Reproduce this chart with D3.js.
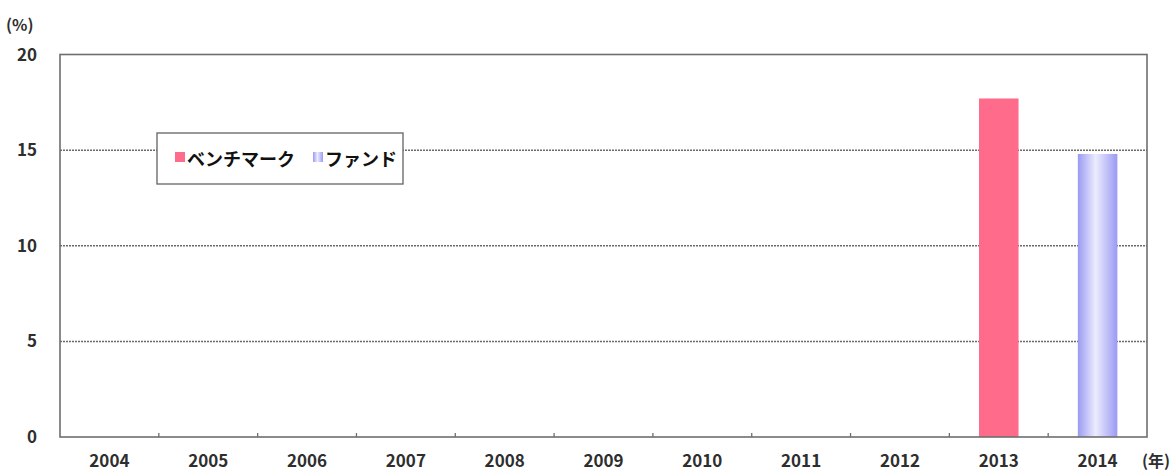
<!DOCTYPE html>
<html>
<head>
<meta charset="utf-8">
<script src="https://cdnjs.cloudflare.com/ajax/libs/d3/7.8.5/d3.min.js"></script>
<style>
  body { margin: 0; background: #fff; }
  svg { display: block; }
</style>
</head>
<body>
<svg id="chart" width="1176" height="471"></svg>
<script>
// data
const years = ["2004", "2005", "2006", "2007", "2008", "2009", "2010", "2011", "2012", "2013", "2014"];
const benchmark = [null, null, null, null, null, null, null, null, null, 17.7, null];
const fund = [null, null, null, null, null, null, null, null, null, null, 14.8];
const yTicks = [0, 5, 10, 15, 20];
const seriesNames = ["ベンチマーク", "ファンド"];

const FONT = "'Noto Sans CJK JP', 'DejaVu Sans', sans-serif";
const PINK = "#ff6b8a";
const LAV_EDGE = "#9a9af4";
const LAV_MID = "#ececfd";

const svg = d3.select("#chart");
const plotL = 60, plotR = 1147, plotT = 54.5, plotB = 437;

const x = d3.scaleBand().domain(years).range([plotL, plotR]).padding(0);
const y = d3.scaleLinear().domain([0, 20]).range([plotB, plotT]);

const defs = svg.append("defs");
const grad = defs.append("linearGradient").attr("id", "lav").attr("x1", "0%").attr("x2", "100%");
grad.append("stop").attr("offset", "0%").attr("stop-color", LAV_EDGE);
grad.append("stop").attr("offset", "45%").attr("stop-color", LAV_MID);
grad.append("stop").attr("offset", "100%").attr("stop-color", LAV_EDGE);

// gridlines (dotted)
svg.append("g").selectAll("line")
  .data(yTicks.filter(d => d > 0 && d < 20))
  .join("line")
  .attr("x1", plotL).attr("x2", plotR)
  .attr("y1", d => y(d)).attr("y2", d => y(d))
  .attr("stroke", "#6a6a6a").attr("stroke-width", 1.5)
  .attr("stroke-dasharray", "2,1");

// bars
const bw = x.bandwidth() * 0.4;
svg.append("g").selectAll("rect")
  .data(years.map((yr, i) => ({ yr, v: benchmark[i] })).filter(d => d.v != null))
  .join("rect")
  .attr("x", d => x(d.yr) + (x.bandwidth() - bw) / 2)
  .attr("y", d => y(d.v))
  .attr("width", bw)
  .attr("height", d => y(0) - y(d.v))
  .attr("fill", PINK);

svg.append("g").selectAll("rect")
  .data(years.map((yr, i) => ({ yr, v: fund[i] })).filter(d => d.v != null))
  .join("rect")
  .attr("x", d => x(d.yr) + (x.bandwidth() - bw) / 2)
  .attr("y", d => y(d.v))
  .attr("width", bw)
  .attr("height", d => y(0) - y(d.v))
  .attr("fill", "url(#lav)");

// plot frame
svg.append("rect")
  .attr("x", plotL).attr("y", plotT)
  .attr("width", plotR - plotL).attr("height", plotB - plotT)
  .attr("fill", "none").attr("stroke", "#6e6e6e").attr("stroke-width", 1.6);

// small category boundary ticks on the bottom edge
svg.append("g").selectAll("line")
  .data(years.slice(1))
  .join("line")
  .attr("x1", d => x(d)).attr("x2", d => x(d))
  .attr("y1", plotB).attr("y2", plotB - 4)
  .attr("stroke", "#6e6e6e").attr("stroke-width", 1.3);

// y axis labels
svg.append("g").selectAll("text")
  .data(yTicks)
  .join("text")
  .attr("x", 37).attr("y", d => y(d))
  .attr("dy", "0.36em")
  .attr("text-anchor", "end")
  .attr("font-family", FONT).attr("font-size", 17).attr("font-weight", "bold")
  .attr("fill", "#2e2e2e")
  .text(d => d);

// x axis labels
svg.append("g").selectAll("text")
  .data(years)
  .join("text")
  .attr("x", d => x(d) + x.bandwidth() / 2).attr("y", 467)
  .attr("text-anchor", "middle")
  .attr("font-family", FONT).attr("font-size", 17).attr("font-weight", "bold")
  .attr("fill", "#2e2e2e")
  .text(d => d);

// unit labels
svg.append("text").attr("x", 6).attr("y", 31)
  .attr("font-family", FONT).attr("font-size", 16).attr("font-weight", "bold")
  .attr("fill", "#2e2e2e").text("(%)");
svg.append("text").attr("x", 1142).attr("y", 467)
  .attr("font-family", FONT).attr("font-size", 16).attr("font-weight", "bold")
  .attr("fill", "#2e2e2e").text("(年)");

// legend
const lg = svg.append("g");
lg.append("rect").attr("x", 157).attr("y", 133).attr("width", 246).attr("height", 51)
  .attr("fill", "#fff").attr("stroke", "#6e6e6e").attr("stroke-width", 1.4);
const items = [
  { name: seriesNames[0], fill: PINK, x: 175 },
  { name: seriesNames[1], fill: "url(#lav)", x: 313 }
];
items.forEach(it => {
  lg.append("rect").attr("x", it.x).attr("y", 152).attr("width", 10).attr("height", 10)
    .attr("fill", it.fill);
  lg.append("text").attr("x", it.x + 12).attr("y", 166)
    .attr("font-family", FONT).attr("font-size", 18).attr("font-weight", "bold")
    .attr("fill", "#111").text(it.name);
});
</script>
</body>
</html>
